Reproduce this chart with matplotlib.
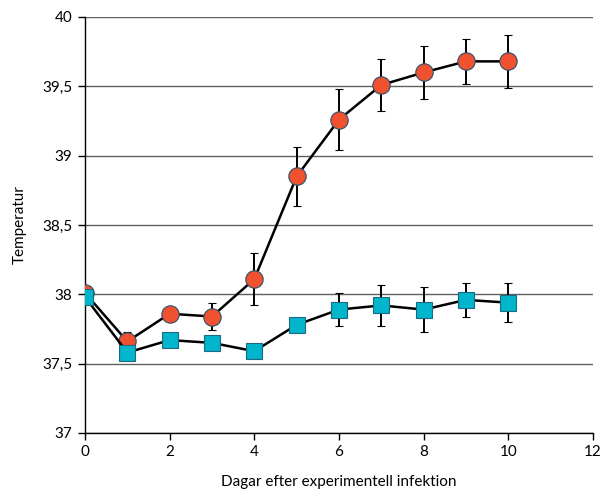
import matplotlib

matplotlib.use("Agg")
import matplotlib.pyplot as plt  # noqa: E402
from matplotlib.ticker import FuncFormatter  # noqa: E402

plt.rcParams.update({"font.family": ["Lato", "DejaVu Sans"], "text.color": "black"})

# Data
days = [0, 1, 2, 3, 4, 5, 6, 7, 8, 9, 10]
infected = [38.01, 37.66, 37.86, 37.84, 38.11, 38.85, 39.26, 39.51, 39.60, 39.68, 39.68]
infected_err = [0.03, 0.07, 0.04, 0.10, 0.19, 0.21, 0.22, 0.19, 0.19, 0.16, 0.19]
control = [37.98, 37.58, 37.67, 37.65, 37.59, 37.78, 37.89, 37.92, 37.89, 37.96, 37.94]
control_err = [0.03, 0.03, 0.03, 0.03, 0.03, 0.03, 0.12, 0.15, 0.16, 0.125, 0.14]

RED = "#f0512f"
BLUE = "#00b5cc"

fig = plt.figure(figsize=(6.02, 4.91), dpi=100)
ax = fig.add_axes([85 / 602, 1 - 433 / 491, (593 - 85) / 602, (433 - 17) / 491])

ax.set_xlim(0, 12)
ax.set_ylim(37, 40)
ax.set_xticks(range(0, 13, 2))
ax.set_yticks([37, 37.5, 38, 38.5, 39, 39.5, 40])
ax.yaxis.set_major_formatter(FuncFormatter(lambda v, _: f"{v:g}".replace(".", ",")))

ax.grid(axis="y", color="#606060", linewidth=1.0)
ax.set_axisbelow(True)
for side in ("top", "right"):
    ax.spines[side].set_visible(False)
for side in ("left", "bottom"):
    ax.spines[side].set_color("black")
    ax.spines[side].set_linewidth(1.0)
ax.tick_params(direction="out", length=5, width=1, labelsize=11, pad=4)

ax.errorbar(days, infected, yerr=infected_err, color="black", lw=1.8,
            elinewidth=1.4, capsize=3, capthick=1.4, marker="o", ms=12.5,
            mfc=RED, mec="#2b4f6e", mew=0.8, zorder=3)
ax.errorbar(days, control, yerr=control_err, color="black", lw=1.8,
            elinewidth=1.4, capsize=3, capthick=1.4, marker="s", ms=12,
            mfc=BLUE, mec="#1d6a80", mew=0.8, zorder=4)

ax.set_xlabel("Dagar efter experimentell infektion", fontsize=11, labelpad=11)
ax.set_ylabel("Temperatur", fontsize=11, labelpad=11)

fig.savefig("out.png", dpi=100, facecolor="white")
